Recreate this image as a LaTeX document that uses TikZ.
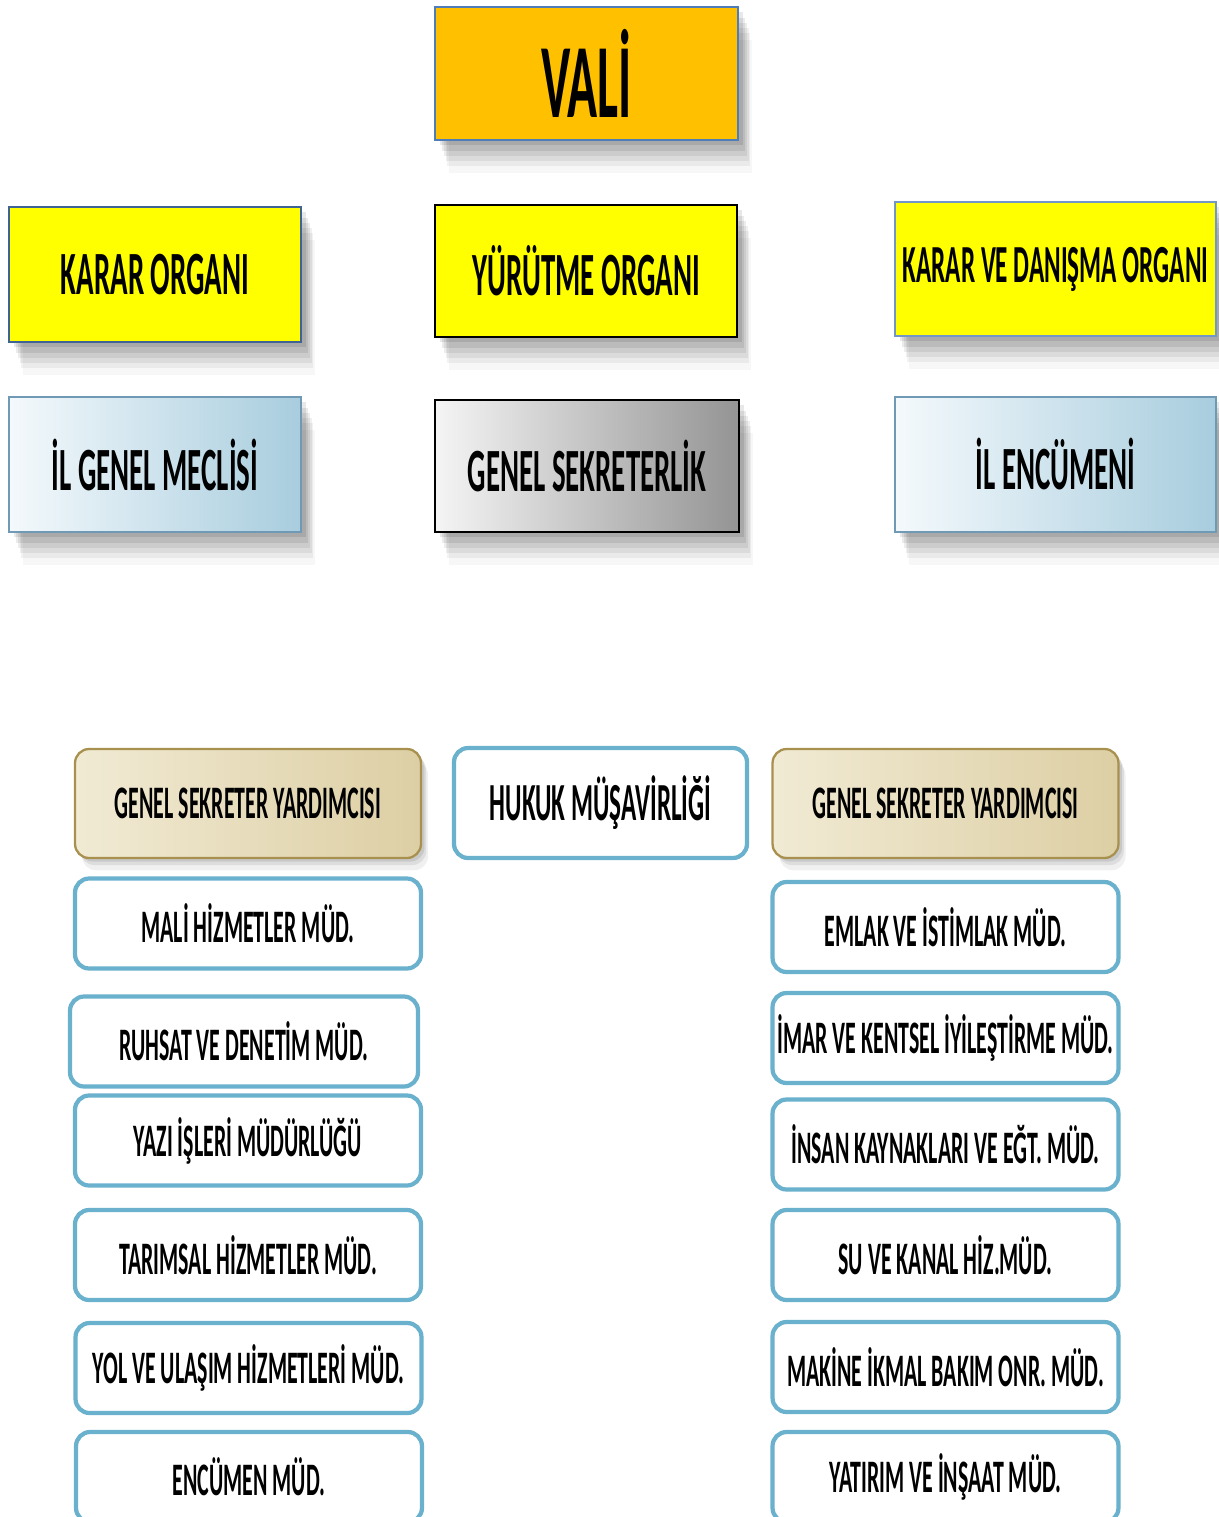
\documentclass[tikz,border=0pt]{standalone}
\usepackage{fontspec}
\newfontfamily\orgfont[FakeStretch=0.47]{Carlito}
\usetikzlibrary{shadows}

\definecolor{valiorange}{HTML}{FFC000}
\definecolor{organyellow}{HTML}{FFFF00}
\definecolor{frameblue}{HTML}{4F7DB8}
\definecolor{paleblue}{HTML}{F4F9FC}
\definecolor{iceblue}{HTML}{A8CDDE}
\definecolor{iceframe}{HTML}{6F99B5}
\definecolor{tanlight}{HTML}{F6F1E0}
\definecolor{tandark}{HTML}{DDCFA4}
\definecolor{tanframe}{HTML}{A8914F}
\definecolor{mudframe}{HTML}{6AB1CD}

\tikzset{
	boxshadow/.style={general shadow={fill=black, opacity=.09, shadow xshift=3pt, shadow yshift=-3pt},
		general shadow={fill=black, opacity=.08, shadow xshift=4pt, shadow yshift=-6pt},
		general shadow={fill=black, opacity=.07, shadow xshift=5pt, shadow yshift=-9pt},
		general shadow={fill=black, opacity=.06, shadow xshift=6pt, shadow yshift=-12pt},
		general shadow={fill=black, opacity=.05, shadow xshift=7pt, shadow yshift=-15pt},
		general shadow={fill=black, opacity=.03, shadow xshift=8pt, shadow yshift=-19pt}},
	smallshadow/.style={general shadow={fill=black, opacity=.09, shadow xshift=2pt, shadow yshift=-2pt},
		general shadow={fill=black, opacity=.08, shadow xshift=3pt, shadow yshift=-4pt},
		general shadow={fill=black, opacity=.06, shadow xshift=4pt, shadow yshift=-7pt}},
	topbox/.style={rectangle, draw=frameblue, line width=1.2pt, inner sep=0pt, boxshadow,
		font=\orgfont\bfseries\fontsize{35}{40}\selectfont},
	yardimci/.style={rectangle, rounded corners=8pt, draw=tanframe, line width=1.3pt, inner sep=0pt,
		left color=tanlight!80!tandark, middle color=tanlight, right color=tandark, smallshadow,
		minimum width=6.92cm, minimum height=2.18cm, font=\orgfont\bfseries\fontsize{26.5}{30}\selectfont},
	mudbox/.style={rectangle, rounded corners=8pt, draw=mudframe, line width=2.4pt, fill=white, inner sep=0pt,
		minimum width=6.92cm, minimum height=1.8cm, font=\orgfont\bfseries\fontsize{26.5}{30}\selectfont}
}

\begin{document}
\begin{tikzpicture}[x=0.02cm, y=-0.02cm]
	\useasboundingbox[fill=white] (0,0) rectangle (1219,1517);
	
	% ust kademe
	\node[topbox, fill=valiorange, minimum width=6.06cm, minimum height=2.66cm,
		font=\orgfont\bfseries\fontsize{60}{64}\selectfont] (vali) at (586.5,73.5) {VALİ};
	
	\node[topbox, fill=organyellow, draw=frameblue!80!black, minimum width=5.84cm, minimum height=2.7cm] (karar) at (155,274.5) {KARAR ORGANI};
	\node[topbox, fill=organyellow, draw=black, minimum width=6.04cm, minimum height=2.64cm] (yurutme) at (586,271) {YÜRÜTME ORGANI};
	\node[topbox, fill=organyellow, draw=frameblue!80, minimum width=6.42cm, minimum height=2.68cm,
		font=\orgfont\bfseries\fontsize{30.5}{34}\selectfont] (danisma) at (1055.5,269) {KARAR VE DANIŞMA ORGANI};
	
	\node[topbox, draw=iceframe, left color=paleblue, right color=iceblue, minimum width=5.84cm, minimum height=2.7cm] (meclis) at (155,464.5) {İL GENEL MECLİSİ};
	\node[topbox, draw=black, left color=black!4, right color=black!42, minimum width=6.08cm, minimum height=2.64cm] (sekreterlik) at (587,466) {GENEL SEKRETERLİK};
	\node[topbox, draw=iceframe, left color=paleblue, right color=iceblue, minimum width=6.42cm, minimum height=2.7cm] (encumen) at (1055.5,464.5) {İL ENCÜMENİ};
	
	% alt kademe
	\node[yardimci] (gsyl) at (248,803.5) {GENEL SEKRETER YARDIMCISI};
	\node[mudbox, minimum width=5.86cm, minimum height=2.2cm, font=\orgfont\bfseries\fontsize{30.5}{34}\selectfont] (hukuk) at (600.5,803) {HUKUK MÜŞAVİRLİĞİ};
	\node[yardimci] (gsyr) at (945.5,803.5) {GENEL SEKRETER YARDIMCISI};
	
	\node[mudbox] (mali) at (248,923.5) {MALİ HİZMETLER MÜD.};
	\node[mudbox, minimum width=6.96cm] (ruhsat) at (244,1041.5) {RUHSAT VE DENETİM MÜD.};
	\node[mudbox] (yazi) at (248,1140.5) {YAZI İŞLERİ MÜDÜRLÜĞÜ};
	\node[mudbox] (tarim) at (248,1255) {TARIMSAL HİZMETLER MÜD.};
	\node[mudbox] (yol) at (248.5,1368) {YOL VE ULAŞIM HİZMETLERİ MÜD.};
	\node[mudbox] (encmud) at (249,1477) {ENCÜMEN MÜD.};
	
	\node[mudbox] (emlak) at (945.5,927) {EMLAK VE İSTİMLAK MÜD.};
	\node[mudbox] (imar) at (945.5,1038) {İMAR VE KENTSEL İYİLEŞTİRME MÜD.};
	\node[mudbox] (insan) at (945.5,1144.5) {İNSAN KAYNAKLARI VE EĞT. MÜD.};
	\node[mudbox] (su) at (945.5,1255) {SU VE KANAL HİZ.MÜD.};
	\node[mudbox] (makine) at (945.5,1367) {MAKİNE İKMAL BAKIM ONR. MÜD.};
	\node[mudbox] (yatirim) at (945.5,1477) {YATIRIM VE İNŞAAT MÜD.};
\end{tikzpicture}
\end{document}
